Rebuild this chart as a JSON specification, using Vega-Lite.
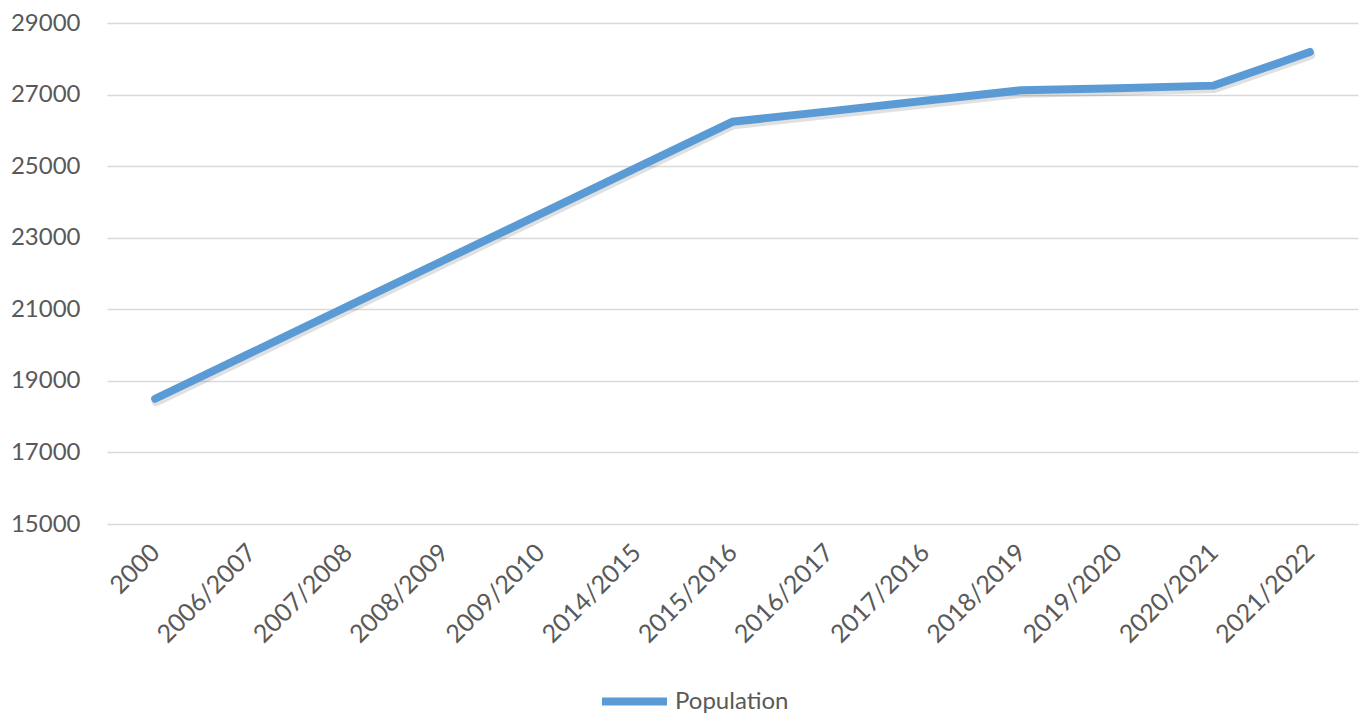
{
  "$schema": "https://vega.github.io/schema/vega-lite/v6.json",
  "autosize": {"type": "none"},
  "width": 1251,
  "height": 501,
  "padding": {"left": 107, "top": 23, "right": 8, "bottom": 191},
  "background": "white",
  "config": {
    "view": {"stroke": null},
    "font": "Lato",
    "axis": {"labelFont": "Lato", "labelColor": "#595959", "domain": false, "ticks": false, "grid": false}
  },
  "data": {
    "values": [
      {"period": "2000", "value": 18500, "series": "Population"},
      {"period": "2006/2007", "value": 19790, "series": "Population"},
      {"period": "2007/2008", "value": 21080, "series": "Population"},
      {"period": "2008/2009", "value": 22370, "series": "Population"},
      {"period": "2009/2010", "value": 23660, "series": "Population"},
      {"period": "2014/2015", "value": 24950, "series": "Population"},
      {"period": "2015/2016", "value": 26240, "series": "Population"},
      {"period": "2016/2017", "value": 26530, "series": "Population"},
      {"period": "2017/2016", "value": 26830, "series": "Population"},
      {"period": "2018/2019", "value": 27120, "series": "Population"},
      {"period": "2019/2020", "value": 27180, "series": "Population"},
      {"period": "2020/2021", "value": 27250, "series": "Population"},
      {"period": "2021/2022", "value": 28190, "series": "Population"}
    ]
  },
  "encoding": {
    "x": {
      "field": "period", "type": "nominal", "sort": null,
      "scale": {"type": "point", "padding": 0.5},
      "axis": {"title": null, "labelAngle": -45, "labelAlign": "right", "labelBaseline": "middle", "labelFontSize": 25, "labelPadding": 24}
    },
    "y": {
      "field": "value", "type": "quantitative",
      "scale": {"domain": [15000, 29000], "nice": false, "zero": false},
      "axis": {"title": null, "values": [15000, 17000, 19000, 21000, 23000, 25000, 27000, 29000], "format": "d", "grid": true, "gridColor": "#d9d9d9", "gridWidth": 1.5, "labelFontSize": 24, "labelPadding": 27}
    }
  },
  "layer": [
    {
      "mark": {"type": "line", "strokeWidth": 9, "color": "#000000", "opacity": 0.12, "yOffset": 3, "xOffset": 1, "strokeCap": "round", "strokeJoin": "round"},
      "encoding": {}
    },
    {
      "mark": {"type": "line", "strokeWidth": 8, "strokeCap": "round", "strokeJoin": "miter"},
      "encoding": {
        "color": {
          "field": "series", "type": "nominal",
          "scale": {"range": ["#5B9BD5"]},
          "legend": {"title": null, "orient": "none", "legendX": 491, "legendY": 642, "symbolType": "stroke", "symbolSize": 4225, "symbolStrokeWidth": 8, "labelFontSize": 24, "labelColor": "#595959", "labelFont": "Lato", "labelOffset": 4}
        }
      }
    }
  ]
}
